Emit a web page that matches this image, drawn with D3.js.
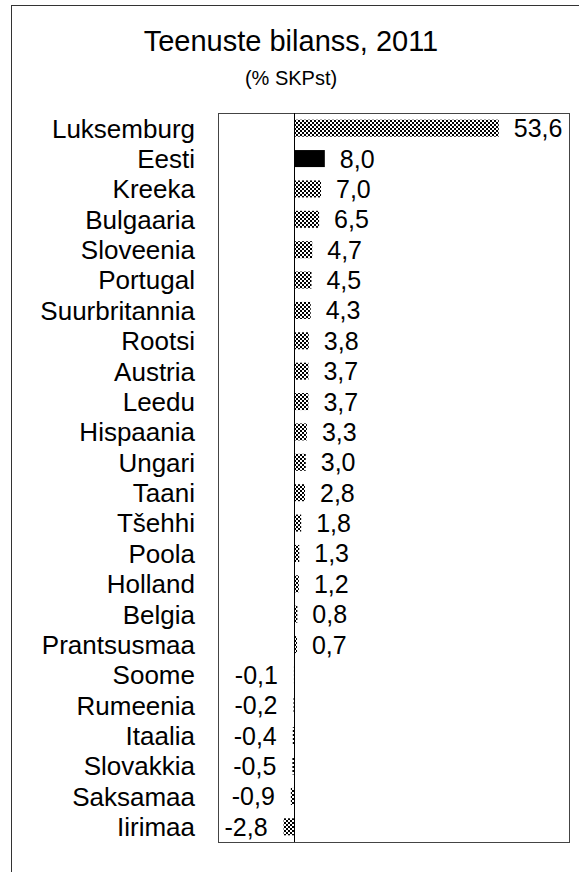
<!DOCTYPE html>
<html>
<head>
<meta charset="utf-8">
<script src="https://cdn.jsdelivr.net/npm/d3@7"></script>
<style>
  body { margin: 0; background: #fff; }
  svg { display: block; font-family: "Liberation Sans", Arial, sans-serif; }
</style>
</head>
<body>
<div id="chart"></div>
<script>
// Chart data
const countries = ["Luksemburg", "Eesti", "Kreeka", "Bulgaaria", "Sloveenia", "Portugal",
  "Suurbritannia", "Rootsi", "Austria", "Leedu", "Hispaania", "Ungari", "Taani", "Tšehhi",
  "Poola", "Holland", "Belgia", "Prantsusmaa", "Soome", "Rumeenia", "Itaalia", "Slovakkia",
  "Saksamaa", "Iirimaa"];
const values = [53.6, 8.0, 7.0, 6.5, 4.7, 4.5, 4.3, 3.8, 3.7, 3.7, 3.3, 3.0, 2.8, 1.8,
  1.3, 1.2, 0.8, 0.7, -0.1, -0.2, -0.4, -0.5, -0.9, -2.8];
const highlight = "Eesti";
const xDomain = [-20, 72];

const data = countries.map((c, i) => ({ country: c, value: values[i] }));

const W = 579, H = 872;
const plot = { left: 218, right: 569, top: 113, bottom: 842 };

const svg = d3.select("#chart")
  .append("svg")
  .attr("width", W)
  .attr("height", H);

// Checkered fill for the bars
const pattern = svg.append("defs")
  .append("pattern")
  .attr("id", "checks")
  .attr("width", 4)
  .attr("height", 4)
  .attr("patternUnits", "userSpaceOnUse");
pattern.append("rect").attr("width", 4).attr("height", 4).attr("fill", "#000");
pattern.append("rect").attr("width", 2).attr("height", 2).attr("fill", "#fff");
pattern.append("rect").attr("x", 2).attr("y", 2).attr("width", 2).attr("height", 2).attr("fill", "#fff");

// Outer frame (runs off the right and bottom of the picture)
svg.append("rect")
  .attr("x", 11.5)
  .attr("y", 5.5)
  .attr("width", W + 20)
  .attr("height", H + 20)
  .attr("fill", "none")
  .attr("stroke", "#333")
  .attr("stroke-width", 1);

// Title
svg.append("text")
  .attr("x", 291)
  .attr("y", 51)
  .style("text-anchor", "middle")
  .style("font-size", "29px")
  .text("Teenuste bilanss, 2011");

svg.append("text")
  .attr("x", 291)
  .attr("y", 85)
  .style("text-anchor", "middle")
  .style("font-size", "20px")
  .text("(% SKPst)");

// Scales
const x = d3.scaleLinear()
  .domain(xDomain)
  .range([plot.left, plot.right]);

const y = d3.scaleBand()
  .domain(countries)
  .range([plot.top, plot.bottom])
  .paddingInner(0.44)
  .paddingOuter(0.22);

// Plot box
svg.append("rect")
  .attr("x", plot.left + 0.5)
  .attr("y", plot.top + 0.5)
  .attr("width", plot.right - plot.left)
  .attr("height", plot.bottom - plot.top)
  .attr("fill", "none")
  .attr("stroke", "#444")
  .attr("stroke-width", 1);

// Bars
svg.selectAll(".bar")
  .data(data)
  .enter()
  .append("rect")
  .attr("class", "bar")
  .attr("x", d => x(Math.min(0, d.value)))
  .attr("y", d => y(d.country))
  .attr("width", d => Math.max(1, Math.abs(x(d.value) - x(0))))
  .attr("height", y.bandwidth())
  .attr("fill", d => d.country === highlight ? "#000" : "url(#checks)");

// Zero line
svg.append("line")
  .attr("x1", Math.round(x(0)) + 0.5)
  .attr("x2", Math.round(x(0)) + 0.5)
  .attr("y1", plot.top)
  .attr("y2", plot.bottom)
  .attr("stroke", "#000")
  .attr("stroke-width", 1);

// Category labels
svg.selectAll(".cat-label")
  .data(data)
  .enter()
  .append("text")
  .attr("class", "cat-label")
  .attr("x", 195)
  .attr("y", d => y(d.country) + y.bandwidth() / 2)
  .attr("dy", "0.36em")
  .style("text-anchor", "end")
  .style("font-size", "26px")
  .text(d => d.country);

// Value labels
const fmt = v => v.toFixed(1).replace(".", ",");
svg.selectAll(".value-label")
  .data(data)
  .enter()
  .append("text")
  .attr("class", "value-label")
  .attr("x", d => d.value >= 0 ? x(d.value) + 15 : x(d.value) - 16)
  .attr("y", d => y(d.country) + y.bandwidth() / 2)
  .attr("dy", "0.36em")
  .style("text-anchor", d => d.value >= 0 ? "start" : "end")
  .style("font-size", "25px")
  .text(d => fmt(d.value));
</script>
</body>
</html>
